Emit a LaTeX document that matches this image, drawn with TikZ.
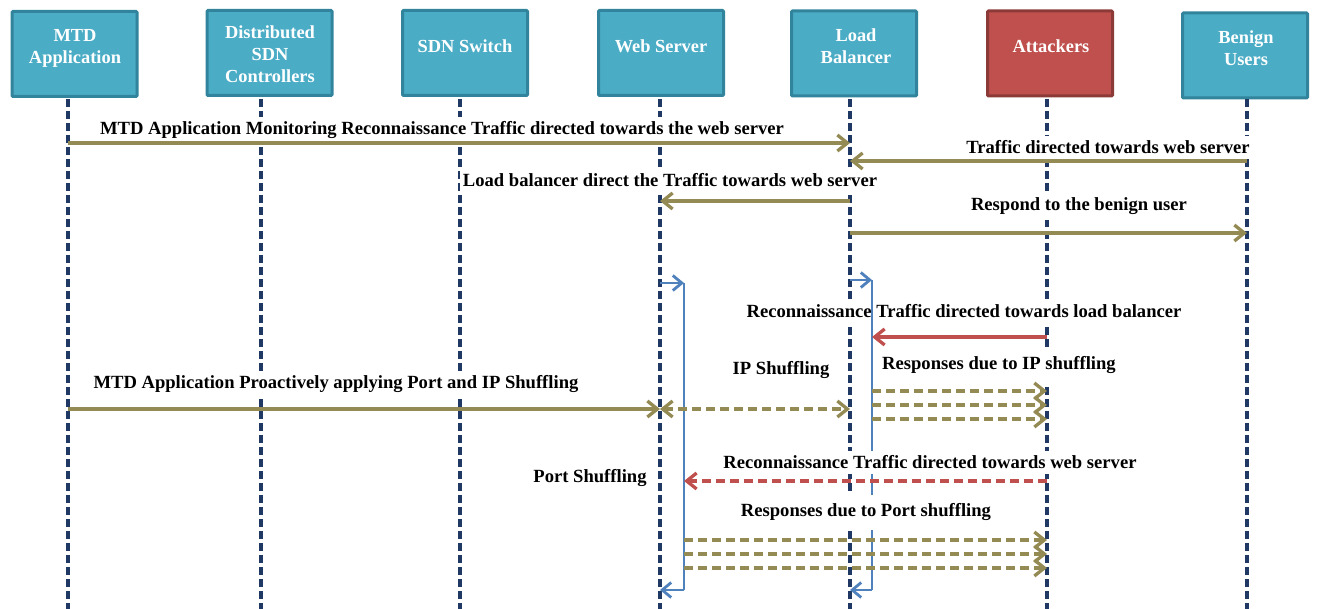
\documentclass[tikz,border=0pt]{standalone}
\usepackage{fontspec}
\setmainfont{Liberation Serif}
\usetikzlibrary{arrows.meta}
\definecolor{boxfill}{HTML}{4BACC6}
\definecolor{boxdraw}{HTML}{31849B}
\definecolor{attfill}{HTML}{C0504D}
\definecolor{attdraw}{HTML}{8C3A38}
\definecolor{life}{HTML}{1F3864}
\definecolor{olive}{HTML}{948A54}
\definecolor{redarr}{HTML}{C0504D}
\definecolor{bluearr}{HTML}{4F81BD}
\tikzset{
  actor/.style={draw=boxdraw, fill=boxfill, line width=3pt, minimum width=125pt, minimum height=85pt, rounded corners=1pt, inner sep=0pt},
  attbox/.style={actor, draw=attdraw, fill=attfill},
  actortext/.style={text=white, font=\bfseries\fontsize{18.4}{22}\selectfont, align=center, inner sep=0pt},
  lifeline/.style={draw=life, line width=3.3pt, dash pattern=on 8pt off 4pt},
  msglabel/.style={fill=white, font=\bfseries\fontsize{18.6}{21}\selectfont, inner xsep=3pt, inner ysep=5pt},
  tip/.style={-{Straight Barb[length=10pt,width=16pt]}},
  msg/.style={draw=olive, line width=3.3pt, tip},
  dmsg/.style={msg, dash pattern=on 9pt off 5pt},
  rmsg/.style={draw=redarr, line width=3.3pt, tip},
  bar/.style={draw=bluearr, line width=2.8pt},
  barin/.style={bar, -{Straight Barb[length=9pt,width=15pt]}}
}
\begin{document}
\begin{tikzpicture}[x=1pt,y=-1pt]
\useasboundingbox (0,0) rectangle (1318,609);
% actor boxes
\node[actor] (bmtd) at (74.5,54) {};
\node[actor] (bdsc) at (269.5,53) {};
\node[actor] (bsw) at (465,53) {};
\node[actor] (bws) at (661,53) {};
\node[actor] (blb) at (854,53.5) {};
\node[attbox] (batt) at (1050,53.5) {};
\node[actor] (bben) at (1245,55.5) {};
\node[actortext] (tmtd) at (75,48) {MTD\\Application};
\node[actortext] (tdsc) at (270,54) {Distributed\\SDN\\Controllers};
\node[actortext] (tsw) at (465,46.5) {SDN Switch};
\node[actortext] (tws) at (661,46.5) {Web Server};
\node[actortext] (tlb) at (856,46.5) {Load\\Balancer};
\node[actortext] (tatt) at (1051,46.5) {Attackers};
\node[actortext] (tben) at (1246,48.5) {Benign\\Users};
% lifeline x positions
\coordinate (mtd) at (68,0);
\coordinate (dsc) at (261,0);
\coordinate (sw) at (460,0);
\coordinate (ws) at (660,0);
\coordinate (lb) at (850,0);
\coordinate (att) at (1047,0);
\coordinate (ben) at (1247,0);
\coordinate (wsbar) at (684,0);
\coordinate (lbbar) at (872,0);
\coordinate (top) at (0,99);
\coordinate (bot) at (0,609);
\foreach \l in {mtd,dsc,sw,ws,lb,att,ben}{
  \draw[lifeline] (\l |- top) -- (\l |- bot);
}
% label covering lifeline but not the bar
\node[msglabel] (l5) at (964,311.5) {Reconnaissance Traffic directed towards load balancer};
% activation bars
\coordinate (b1) at (0,283);
\coordinate (b2) at (0,280);
\coordinate (b3) at (0,590);
\draw[barin] (ws |- b1) -- (wsbar |- b1);
\draw[bar] (wsbar |- b1) -- (wsbar |- b3);
\draw[barin] (wsbar |- b3) -- (ws |- b3);
\draw[barin] (lb |- b2) -- (lbbar |- b2);
\draw[bar] (lbbar |- b2) -- (lbbar |- b3);
\draw[barin] (lbbar |- b3) -- (lb |- b3);
% labels
\node[msglabel] (l1) at (442,130.5) {MTD Application Monitoring Reconnaissance Traffic directed towards the web server};
\node[msglabel] (l2) at (1108,147.5) {Traffic directed towards web server};
\node[msglabel] (l3) at (670,180.5) {Load balancer direct the Traffic towards web server};
\node[msglabel] (l4) at (1079,206.5) {Respond to the benign user};
\node[msglabel] (l6) at (781,370.5) {IP Shuffling};
\node[msglabel, inner ysep=9pt] (l7) at (999,365.5) {Responses due to IP shuffling};
\node[msglabel] (l8) at (336,384.5) {MTD Application Proactively applying Port and IP Shuffling};
\node[msglabel] (l9) at (930,462.5) {Reconnaissance Traffic directed towards web server};
\node[msglabel] (l10) at (590,478.5) {Port Shuffling};
\node[msglabel, inner ysep=9pt] (l11) at (866,512.5) {Responses due to Port shuffling};
% message rows
\coordinate (r1) at (0,143);
\coordinate (r2) at (0,161);
\coordinate (r3) at (0,201);
\coordinate (r4) at (0,233);
\coordinate (r5) at (0,337);
\coordinate (r6) at (0,391);
\coordinate (r7) at (0,405);
\coordinate (r8) at (0,419);
\coordinate (r9) at (0,409);
\coordinate (r10) at (0,481);
\coordinate (r11) at (0,540);
\coordinate (r12) at (0,554);
\coordinate (r13) at (0,568);
\draw[msg] (mtd |- r1) -- (lb |- r1);
\draw[msg] (ben |- r2) -- (lb |- r2);
\draw[msg] (lb |- r3) -- (ws |- r3);
\draw[msg] (lb |- r4) -- (ben |- r4);
\draw[rmsg] (att |- r5) -- (lbbar |- r5);
\foreach \r in {r6,r7,r8}{ \draw[dmsg] (lbbar |- \r) -- (att |- \r); }
\draw[msg] (mtd |- r9) -- (ws |- r9);
\draw[dmsg, {Straight Barb[length=10pt,width=16pt]}-{Straight Barb[length=10pt,width=16pt]}] (ws |- r9) -- (lb |- r9);
\draw[rmsg, dash pattern=on 9pt off 5pt] (att |- r10) -- (wsbar |- r10);
\foreach \r in {r11,r12,r13}{ \draw[dmsg] (wsbar |- \r) -- (att |- \r); }
\end{tikzpicture}
\end{document}
